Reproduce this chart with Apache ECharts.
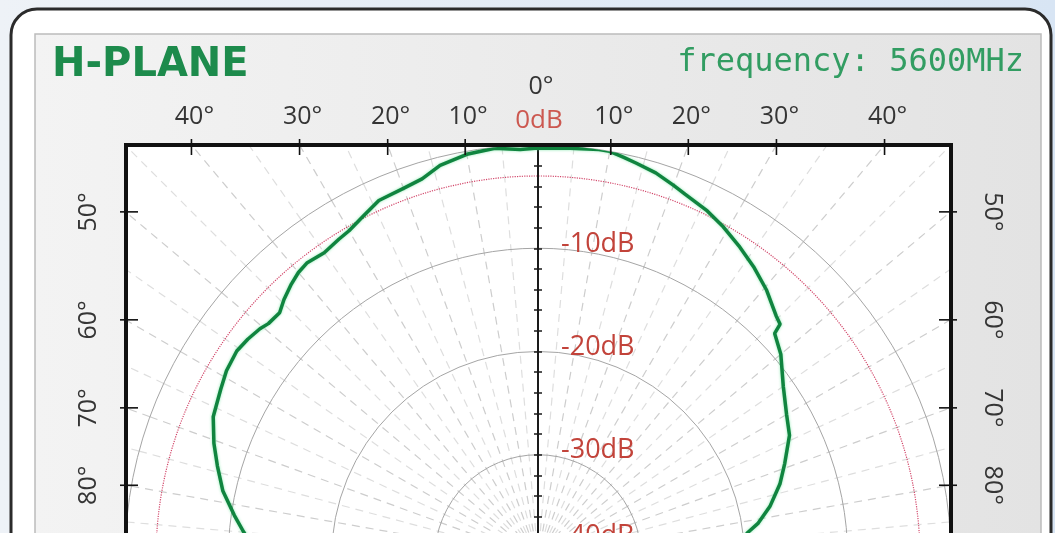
<!DOCTYPE html>
<html>
<head>
<meta charset="utf-8">
<script src="https://cdn.jsdelivr.net/npm/echarts/dist/echarts.min.js"></script>
<style>
html,body{margin:0;padding:0;background:#e8eef6;}
#c{width:1055px;height:533px;}
</style>
</head>
<body>
<div id="c"></div>
<script>
// ---- data (angle in degrees, 0 = boresight, + = right) ----
const angleDeg = [-93, -88, -85, -82, -78, -74, -70.5, -66.5, -62, -59, -55.5, -53, -50.5, -49, -46.5, -44.5, -42, -40, -38, -35, -32, -30, -27, -24, -20, -17, -14, -10, -6, -2.5, 0, 4.5, 8.5, 10, 12, 14, 17, 20, 22, 26, 29, 33, 36.5, 40.5, 44.5, 46, 46.5, 50, 55, 60, 64, 69, 73, 77.5, 81, 83, 86, 90, 93];
const gainDb   = [-14.0, -12.4, -11.4, -10.3, -8.8, -7.7, -6.7, -5.7, -5.2, -4.8, -4.6, -4.8, -5.1, -5.4, -5.5, -4.9, -4.3, -3.9, -3.7, -3.9, -3.6, -3.4, -2.8, -2.1, -1.9, -1.6, -0.8, -0.3, -0.1, -0.4, -0.3, -0.2, 0, 0, -0.3, -0.6, -1.0, -1.6, -2.0, -2.6, -3.2, -4.1, -4.9, -5.9, -7.1, -7.4, -8.4, -9.3, -11.0, -12.2, -12.9, -14.4, -15.5, -17.0, -18.4, -19.5, -20.6, -22.0, -23.0];
const topTickAngles  = [10, 20, 30, 40];
const sideTickAngles = [50, 60, 70, 80];
const dbMin = -40, dbMax = 0, dbStep = 10;
const halfPowerDb = -3;
const titleText = 'H-PLANE';
const freqText  = 'frequency: 5600MHz';

// ---- layout ----
const CX = 538, CY = 558, R = 413;          // polar centre and 0 dB radius
const FL = 126, FR = 951, FT = 145;         // plot frame
const HW = (FR - FL) / 2;
const rad = d => d * Math.PI / 180;
const majorDash = '#cdcdcd', minorDash = '#dedede';
const labelFont = 'Open Sans';

const g = [];
// outer rounded card
g.push({ type: 'rect', z: 0, shape: { x: 11, y: 9, width: 1040, height: 640, r: 26 },
  style: { fill: '#ffffff', stroke: '#2b2b2b', lineWidth: 3 } });
// grey panel
g.push({ type: 'rect', z: 1, shape: { x: 35, y: 34, width: 1006, height: 640 },
  style: { fill: { type: 'linear', x: 0, y: 0, x2: 1, y2: 0,
    colorStops: [{ offset: 0, color: '#f3f3f3' }, { offset: 1, color: '#e3e3e3' }] },
    stroke: '#bcbcbc', lineWidth: 1.5 } });
// plot frame interior
g.push({ type: 'rect', z: 2, shape: { x: FL, y: FT, width: FR - FL, height: 640 }, style: { fill: '#ffffff' } });

// radial dashed grid continued from the 0 dB circle to the frame edge
for (let a = 5; a <= 85; a += 5) {
  [-1, 1].forEach(s => {
    const t = rad(a);
    const d = Math.min(R / Math.cos(t), HW / Math.sin(t));
    if (d - R > 1) {
      g.push({ type: 'line', z: 3, silent: true,
        shape: { x1: CX + s * R * Math.sin(t), y1: CY - R * Math.cos(t),
                 x2: CX + s * d * Math.sin(t), y2: CY - d * Math.cos(t) },
        style: { stroke: a % 10 === 0 ? majorDash : minorDash, lineWidth: 1.2, lineDash: [8, 6] } });
    }
  });
}

// frame border
g.push({ type: 'rect', z: 8, shape: { x: FL, y: FT, width: FR - FL, height: 640 },
  style: { fill: 'transparent', stroke: '#111111', lineWidth: 4 } });

const degStyle = { fontFamily: labelFont, fontSize: 25, fill: '#353535', align: 'center', verticalAlign: 'middle' };
// top ticks and labels
topTickAngles.forEach(a => {
  [-1, 1].forEach(s => {
    const x = CX + s * R * Math.tan(rad(a));
    g.push({ type: 'line', z: 8, shape: { x1: x, y1: FT - 6, x2: x, y2: FT + 10 }, style: { stroke: '#111', lineWidth: 1.6 } });
    g.push({ type: 'text', z: 8, x: x + 3, y: 117, style: Object.assign({ text: a + '°' }, degStyle) });
  });
});
// side ticks and labels
sideTickAngles.forEach(a => {
  const y = CY - HW / Math.tan(rad(a));
  g.push({ type: 'line', z: 8, shape: { x1: FL - 6, y1: y, x2: FL + 12, y2: y }, style: { stroke: '#111', lineWidth: 1.6 } });
  g.push({ type: 'line', z: 8, shape: { x1: FR - 12, y1: y, x2: FR + 6, y2: y }, style: { stroke: '#111', lineWidth: 1.6 } });
  g.push({ type: 'text', z: 8, x: 89, y: y, rotation: Math.PI / 2, style: Object.assign({ text: a + '°' }, degStyle) });
  g.push({ type: 'text', z: 8, x: 992, y: y, rotation: -Math.PI / 2, style: Object.assign({ text: a + '°' }, degStyle) });
});
// 0° and 0dB
g.push({ type: 'text', z: 8, x: 541, y: 87, style: Object.assign({ text: '0°' }, degStyle) });
g.push({ type: 'text', z: 8, x: 539, y: 121, style: { text: dbMax + 'dB', fontFamily: labelFont, fontSize: 26, fill: '#cc5850', align: 'center', verticalAlign: 'middle' } });
// titles
g.push({ type: 'text', z: 8, x: 52, y: 66, style: { text: titleText, fontFamily: 'DejaVu Sans', fontWeight: 'bold', fontSize: 40, fill: '#1d8b4c', align: 'left', verticalAlign: 'middle' } });
g.push({ type: 'text', z: 8, x: 1024, y: 63, style: { text: freqText, fontFamily: 'DejaVu Sans Mono', fontSize: 32, fill: '#329d62', align: 'right', verticalAlign: 'middle' } });

const hidden = { show: false };
const chart = echarts.init(document.getElementById('c'), null, { renderer: 'canvas' });
chart.setOption({
  animation: false,
  backgroundColor: { type: 'linear', x: 0, y: 0, x2: 1, y2: 0,
    colorStops: [{ offset: 0, color: '#eef2f7' }, { offset: 1, color: '#d8e5f4' }] },
  polar: [
    { center: [CX, CY], radius: R },
    { center: [CX, CY], radius: R },
    { center: [CX, CY], radius: R }
  ],
  angleAxis: [
    { polarIndex: 0, type: 'value', min: 0, max: 360, interval: 10, startAngle: 90, clockwise: true, z: 3,
      axisLine: hidden, axisTick: hidden, axisLabel: hidden,
      minorTick: { show: false, splitNumber: 2 },
      splitLine: { show: true, lineStyle: { color: majorDash, width: 1.2, type: [8, 6] } },
      minorSplitLine: { show: true, lineStyle: { color: minorDash, width: 1.2, type: [8, 6] } } },
    { polarIndex: 1, type: 'value', min: 0, max: 360, startAngle: 90, z: 3,
      axisLine: hidden, axisTick: hidden, axisLabel: hidden, splitLine: hidden },
    { polarIndex: 2, type: 'value', min: 0, max: 360, startAngle: 90, z: 3,
      axisLine: hidden, axisTick: hidden, axisLabel: hidden, splitLine: hidden }
  ],
  radiusAxis: [
    { polarIndex: 0, type: 'value', min: dbMin, max: dbMax, interval: dbStep, z: 4,
      axisLine: { show: true, lineStyle: { color: '#1a1a1a', width: 2 } },
      axisTick: { show: true, length: 4, lineStyle: { color: '#1a1a1a', width: 1.5 } },
      minorTick: { show: true, splitNumber: 5, length: 4, lineStyle: { color: '#1a1a1a', width: 1.5 } },
      splitLine: { show: true, lineStyle: { color: '#a5a5a5', width: 1 } },
      axisLabel: { show: true, margin: -23, align: 'left', verticalAlign: 'middle',
        formatter: v => v === dbMax ? '' : (v === dbMin ? '{b|' + v + 'dB}' : '{a|' + v + 'dB}'),
        rich: {
          a: { color: '#c2433a', fontSize: 27, fontFamily: labelFont, padding: [0, 0, 8, 0] },
          b: { color: '#c2433a', fontSize: 27, fontFamily: labelFont, padding: [0, 0, 44, 0] }
        } } },
    { polarIndex: 1, type: 'value', min: dbMin, max: dbMax, interval: dbStep, z: 4,
      axisLine: hidden, axisLabel: hidden, splitLine: hidden,
      axisTick: { show: true, length: -4, lineStyle: { color: '#1a1a1a', width: 1.5 } },
      minorTick: { show: true, splitNumber: 5, length: -4, lineStyle: { color: '#1a1a1a', width: 1.5 } } },
    { polarIndex: 2, type: 'value', min: 0, max: dbMax - dbMin, interval: (dbMax - dbMin) + halfPowerDb, z: 4,
      axisLine: hidden, axisTick: hidden, axisLabel: hidden,
      splitLine: { show: true, lineStyle: { color: ['rgba(0,0,0,0)', '#d2476a', 'rgba(0,0,0,0)'], width: 1.2, type: 'dotted' } } }
  ],
  graphic: { elements: g },
  series: [{
    type: 'line', coordinateSystem: 'polar', polarIndex: 0, z: 6, clip: false,
    showSymbol: false, smooth: false, silent: true,
    lineStyle: { color: '#10843f', width: 3.5, shadowColor: 'rgba(70,220,130,0.6)', shadowBlur: 3 },
    data: angleDeg.map((a, i) => [gainDb[i], a < 0 ? a + 360 : a])
  }]
});
</script>
</body>
</html>
